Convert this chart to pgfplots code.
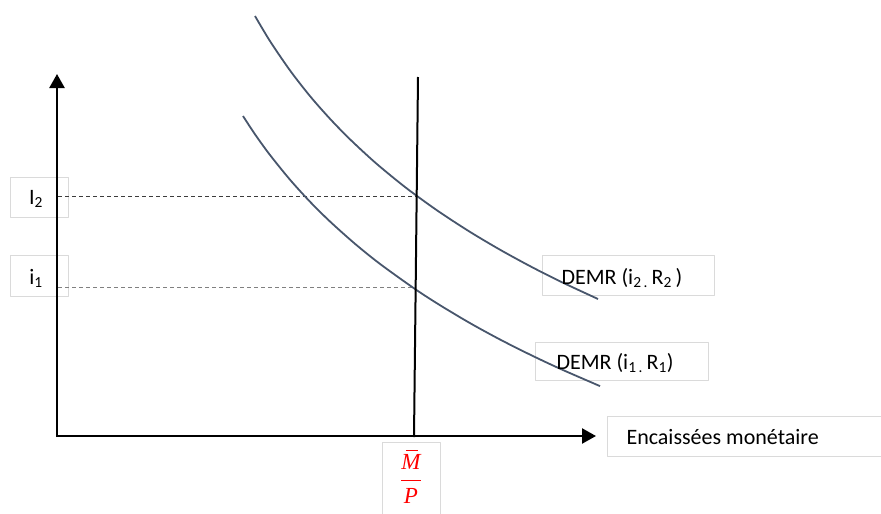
\documentclass[border=0pt]{standalone}
\usepackage{amsmath}
\usepackage{pgfplots}
\pgfplotsset{compat=1.18}
\usetikzlibrary{arrows.meta}
\usepackage{fontspec}
\setmainfont{Carlito}
\newfontfamily\fracfont{Liberation Serif}
\definecolor{curveC}{RGB}{72,86,108}
\definecolor{boxC}{RGB}{218,218,218}
\definecolor{dashC}{RGB}{60,60,60}
\begin{document}
\begin{tikzpicture}
\begin{axis}[hide axis, scale only axis, width=881pt, height=514pt,
  xmin=0, xmax=881, ymin=0, ymax=514, y dir=reverse, clip=false,
  every axis plot/.append style={line join=round}]
  % label boxes
  \addplot[draw=boxC, fill=white, line width=1pt] coordinates {(10,177) (68,177) (68,217) (10,217) (10,177)};
  \addplot[draw=boxC, fill=white, line width=1pt] coordinates {(10,255) (68,255) (68,296) (10,296) (10,255)};
  \addplot[draw=boxC, fill=white, line width=1pt] coordinates {(542,255) (714,255) (714,295) (542,295) (542,255)};
  \addplot[draw=boxC, fill=white, line width=1pt] coordinates {(535,342) (708,342) (708,380) (535,380) (535,342)};
  \addplot[draw=boxC, fill=white, line width=1pt] coordinates {(886,416) (607,416) (607,456) (886,456)};
  \addplot[draw=boxC, fill=white, line width=1pt] coordinates {(382,519) (382,442) (440,442) (440,519)};
  % dashed guides
  \addplot[dashC, line width=0.8pt, dash pattern=on 4pt off 3pt] coordinates {(58,196) (417,196)};
  \addplot[dashC!65, line width=0.9pt, dash pattern=on 4pt off 3pt] coordinates {(58,287) (415,287)};
  % demand curves
  \addplot[curveC, line width=1.8pt, smooth] coordinates {(255,16) (270,41.1) (290,70.4) (310,96.1) (330,118.8) (350,139.3) (375,162.4) (400,183.1) (417,196) (440,212.4) (470,231.9) (500,249.7) (530,266.1) (560,281.3) (598,299)};
  \addplot[curveC, line width=1.8pt, smooth] coordinates {(243,116) (255,134.3) (270,155) (290,179.7) (310,201.7) (330,221.5) (355,243.8) (380,263.9) (415,289) (440,305.2) (470,323.1) (500,339.5) (530,354.6) (560,368.7) (600,386.1)};
  % money supply
  \addplot[black, line width=2pt] coordinates {(418,77) (414,437)};
  % axes
  \addplot[black, line width=2.4pt, -{Triangle[length=14pt,width=15pt]}] coordinates {(57,437) (57,74)};
  \addplot[black, line width=2.4pt, -{Triangle[length=14pt,width=15pt]}] coordinates {(56,436) (596,436)};
  % labels
  \node[font=\fontsize{22}{26}\selectfont] at (axis cs:36,199) {I\textsubscript{2}};
  \node[font=\fontsize{22}{26}\selectfont] at (axis cs:36,278) {i\textsubscript{1}};
  \node[font=\fontsize{22}{26}\selectfont, anchor=west] at (axis cs:558,278) {DEMR (i\textsubscript{2\,.}\,R\textsubscript{2}\,)};
  \node[font=\fontsize{22}{26}\selectfont, anchor=west] at (axis cs:553,363) {DEMR (i\textsubscript{1\,.}\,R\textsubscript{1})};
  \node[font=\fontsize{22}{26}\selectfont, anchor=west] at (axis cs:623,437) {Encaissées monétaire};
  \node[text=red, font=\fontsize{23}{26}\selectfont] at (axis cs:411,477) {$\genfrac{}{}{1.6pt}{0}{\mbox{\fracfont\itshape\makebox[0pt][l]{\hspace{4.5pt}\rule[18.5pt]{12pt}{1.3pt}}M}}{\mbox{\fracfont\itshape P}}$};
\end{axis}
\pgfresetboundingbox
\useasboundingbox (current axis.south west) rectangle (current axis.north east);
\end{tikzpicture}
\end{document}
